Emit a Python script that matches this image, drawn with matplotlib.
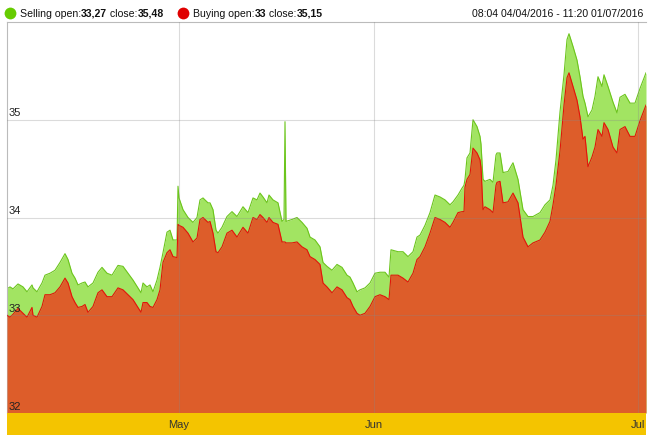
import matplotlib
matplotlib.use("Agg")
import matplotlib.pyplot as plt
from matplotlib.lines import Line2D
import numpy as np

plt.rcParams['font.family'] = ['Liberation Sans', 'DejaVu Sans']

# bar index (chart session position) and prices
bars = [0, 3, 6, 11, 16, 20, 25, 26, 30, 35, 38, 43, 48, 53, 58, 61, 65, 68, 71, 75,
        78, 81, 86, 91, 95, 100, 105, 111, 116, 121, 126, 131, 134, 136, 140, 143, 146, 150, 153, 156,
        160, 163, 166, 170, 171, 172, 176, 181, 186, 190, 193, 196, 201, 203, 206, 209, 211, 215, 220, 225,
        230, 236, 241, 246, 250, 253, 256, 260, 262, 266, 271, 275, 277, 278, 279, 285, 290, 295, 300, 303,
        308, 313, 316, 320, 325, 330, 335, 340, 343, 346, 350, 353, 358, 363, 368, 373, 378, 382, 384, 391,
        396, 401, 406, 410, 413, 418, 423, 428, 433, 438, 443, 446, 451, 455, 457, 458, 460, 463, 466, 470,
        473, 474, 476, 478, 483, 486, 489, 490, 493, 496, 501, 506, 511, 516, 521, 526, 533, 538, 543, 546,
        549, 553, 557, 560, 562, 566, 570, 573, 576, 578, 581, 585, 588, 591, 595, 597, 601, 606, 610, 613,
        618, 623, 628, 633, 639]

selling = [33.27, 33.29, 33.27, 33.32, 33.29, 33.24, 33.31, 33.28, 33.24, 33.33, 33.41, 33.43, 33.46, 33.54, 33.63, 33.57, 33.43, 33.38, 33.31, 33.33,
           33.34, 33.29, 33.33, 33.44, 33.49, 33.43, 33.41, 33.51, 33.50, 33.43, 33.36, 33.28, 33.23, 33.33, 33.29, 33.31, 33.24, 33.36, 33.49, 33.64,
           33.85, 33.87, 33.77, 33.77, 34.32, 34.20, 34.08, 34.00, 33.95, 34.00, 34.18, 34.20, 34.15, 34.15, 34.08, 33.87, 33.84, 33.90, 34.01, 34.06,
           34.01, 34.11, 34.05, 34.20, 34.18, 34.25, 34.21, 34.15, 34.23, 34.18, 34.15, 33.96, 33.98, 34.98, 33.96, 33.98, 34.00, 33.95, 33.89, 33.80,
           33.77, 33.70, 33.54, 33.50, 33.46, 33.52, 33.49, 33.41, 33.39, 33.33, 33.24, 33.26, 33.28, 33.33, 33.43, 33.44, 33.44, 33.39, 33.67, 33.65,
           33.65, 33.60, 33.65, 33.80, 33.82, 33.92, 34.05, 34.23, 34.21, 34.18, 34.13, 34.16, 34.23, 34.30, 34.33, 34.39, 34.61, 34.66, 35.00, 34.93,
           34.83, 34.75, 34.39, 34.37, 34.39, 34.36, 34.64, 34.66, 34.66, 34.46, 34.47, 34.56, 34.39, 34.08, 34.01, 34.01, 34.05, 34.13, 34.18, 34.33,
           34.59, 35.08, 35.46, 35.82, 35.88, 35.75, 35.61, 35.44, 35.24, 35.17, 35.03, 35.10, 35.24, 35.44, 35.34, 35.46, 35.34, 35.18, 35.07, 35.23,
           35.26, 35.17, 35.17, 35.32, 35.48]

buying = [33.00, 32.98, 33.01, 33.07, 33.02, 32.98, 33.08, 33.00, 32.98, 33.09, 33.21, 33.21, 33.23, 33.29, 33.38, 33.33, 33.19, 33.13, 33.08, 33.09,
          33.11, 33.03, 33.09, 33.23, 33.26, 33.19, 33.19, 33.28, 33.26, 33.21, 33.16, 33.08, 33.03, 33.13, 33.13, 33.09, 33.08, 33.16, 33.26, 33.54,
          33.64, 33.67, 33.60, 33.59, 33.93, 33.92, 33.90, 33.84, 33.75, 33.79, 33.98, 34.00, 33.95, 33.96, 33.84, 33.65, 33.64, 33.70, 33.84, 33.87,
          33.80, 33.90, 33.84, 34.00, 33.98, 34.03, 34.00, 33.95, 34.00, 33.95, 33.93, 33.75, 33.75, 33.75, 33.74, 33.74, 33.75, 33.70, 33.67, 33.60,
          33.57, 33.52, 33.33, 33.29, 33.23, 33.29, 33.26, 33.18, 33.16, 33.09, 33.02, 33.00, 33.02, 33.09, 33.19, 33.21, 33.19, 33.16, 33.41, 33.41,
          33.38, 33.34, 33.43, 33.57, 33.60, 33.70, 33.84, 34.00, 33.98, 33.95, 33.90, 33.95, 34.05, 34.06, 34.06, 34.31, 34.39, 34.44, 34.71, 34.66,
          34.59, 34.51, 34.08, 34.11, 34.08, 34.05, 34.33, 34.36, 34.37, 34.15, 34.16, 34.25, 34.15, 33.80, 33.70, 33.74, 33.77, 33.85, 33.96, 34.13,
          34.33, 34.68, 35.15, 35.43, 35.48, 35.34, 35.20, 35.03, 34.80, 34.83, 34.52, 34.62, 34.72, 34.90, 34.83, 34.97, 34.90, 34.72, 34.66, 34.90,
          34.93, 34.83, 34.83, 34.99, 35.15]

month_labels = ['May', 'Jun', 'Jul']
month_bars = [172, 367, 631]
y_ticks = [32, 33, 34, 35]

GREEN_FILL = '#A2E462'
GREEN_LINE = '#6CC51C'
RED_FILL = '#DD5D2A'
RED_LINE = '#E2140A'
YELLOW = '#F4C400'

W, H = 660, 438
fig = plt.figure(figsize=(W / 100, H / 100), dpi=100)
fig.patch.set_facecolor('white')

L, R, T, B = 7, 646, 22, 413
ax = fig.add_axes([L / W, 1 - B / H, (R - L) / W, (B - T) / H])
x = np.array(bars)
ax.fill_between(x, 32, selling, color=GREEN_FILL, lw=0, zorder=1)
ax.plot(x, selling, color=GREEN_LINE, lw=0.8, zorder=2)
ax.fill_between(x, 32, buying, color=RED_FILL, lw=0, zorder=3)
ax.plot(x, buying, color=RED_LINE, lw=0.8, zorder=4)
ax.set_xlim(0, 639)
ax.set_ylim(32, 36)
ax.set_xticks([])
ax.set_yticks([])
for yv in y_ticks[1:]:
    ax.axhline(yv, color='#888888', lw=0.8, alpha=0.3, zorder=5)
for mb in month_bars:
    ax.axvline(mb, color='#888888', lw=0.8, alpha=0.3, zorder=5)
for yv in y_ticks:
    ax.text(2, yv + 0.015, str(yv), ha='left', va='bottom', fontsize=8,
            color='#222222', zorder=6)
for s in ['right', 'bottom']:
    ax.spines[s].set_visible(False)
for s in ['left', 'top']:
    ax.spines[s].set_color('#BBBBBB')
    ax.spines[s].set_linewidth(0.8)

# yellow date band
bx = fig.add_axes([L / W, 1 - 435 / H, (R - L) / W, 22 / H])
bx.set_facecolor(YELLOW)
bx.set_xlim(0, 639)
bx.set_ylim(0, 1)
bx.set_yticks([])
bx.set_xticks([])
for s in bx.spines.values():
    s.set_visible(False)
for lab, mb in zip(month_labels, month_bars):
    bx.text(mb, 0.45, lab, ha='center', va='center', fontsize=8, color='#333333')

# legend header
fy = 1 - 13 / H
fig.add_artist(Line2D([10 / W], [fy], marker='o', markersize=8.5, color='#66CC00',
                      markeredgewidth=0, transform=fig.transFigure))
fig.add_artist(Line2D([183 / W], [fy], marker='o', markersize=8.5, color='#E00000',
                      markeredgewidth=0, transform=fig.transFigure))

renderer = fig.canvas.get_renderer()
base_y = 1 - 17 / H


def chain(x0, parts, size=7.6):
    xp = x0
    for txt, bold in parts:
        t = fig.text(xp / W, base_y, txt, ha='left', va='baseline', fontsize=size,
                     color='#111111', fontweight='bold' if bold else 'normal')
        bb = t.get_window_extent(renderer=renderer)
        xp += bb.width


chain(20, [('Selling open:', False), ('33,27', True), (' close:', False), ('35,48', True)])
chain(193, [('Buying open:', False), ('33', True), (' close:', False), ('35,15', True)])
fig.text(643 / W, base_y, '08:04 04/04/2016 - 11:20 01/07/2016', ha='right', va='baseline',
         fontsize=7.6, color='#111111')

fig.savefig('out.png', dpi=100, facecolor='white')
